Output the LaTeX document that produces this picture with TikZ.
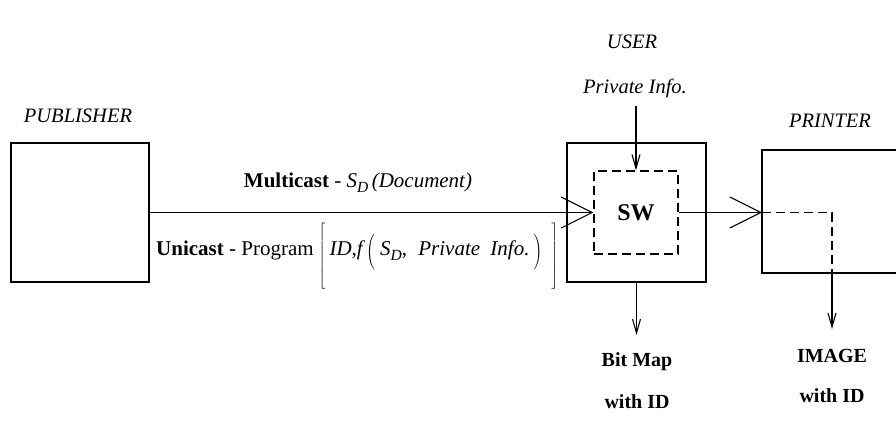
\documentclass[tikz,border=0pt]{standalone}
\usepackage{fontspec}
\setmainfont{Liberation Serif}
\usetikzlibrary{arrows.meta}
\newcommand\SubD{\textit{S}\raisebox{-5pt}{\fontsize{15.5}{15.5}\selectfont\itshape D}}
\newcommand\tallrule[1]{\vcenter{\hbox{\rule{0pt}{#1}}}}
\begin{document}
\begin{tikzpicture}[x=1pt,y=-1pt,
  every node/.style={inner sep=0pt, font=\fontsize{20}{24}\selectfont},
  lbl/.style={font=\fontsize{20.5}{24}\selectfont\itshape},
  bld/.style={font=\fontsize{20}{24}\selectfont\bfseries},
  msg/.style={font=\fontsize{21}{25}\selectfont},
  solidbox/.style={draw, line width=1.1pt},
  dashbox/.style={draw, line width=1.1pt, dash pattern=on 9pt off 5pt},
  bigarrow/.style={line width=1.1pt, -{Straight Barb[length=31pt,width=31pt,line width=1.1pt]}},
  smallarrow/.style={line width=1.1pt, -{Straight Barb[length=14pt,width=8pt,line width=1.1pt]}}
]
\useasboundingbox (0,0) rectangle (896,426);

% publisher
\node[solidbox, minimum width=138pt, minimum height=139pt] (pub) at (80,212.5) {};
\node[lbl] (publbl) at (78,116) {PUBLISHER};

% SW box
\node[solidbox, minimum width=139pt, minimum height=139pt] (sw) at (636.5,212.5) {};
\node[dashbox, minimum width=84pt, minimum height=83pt, font=\fontsize{24}{28}\selectfont\bfseries] (swin) at (636,212.5) {SW};

% user
\node[lbl] (user) at (632,42) {USER};
\node[lbl] (priv) at (635,88) {Private Info.};
\coordinate (privstart) at (636,106);
\draw[smallarrow] (privstart) -- (swin.north);

% printer
\node[lbl] (prnlbl) at (830,121) {PRINTER};
\draw[solidbox] (898,150) -- (762,150) -- (762,273) -- (898,273);
\coordinate (prnin) at (762,212.5);
\coordinate (prncorner) at (832,212.5);
\coordinate (prnbot) at (832,273);
\coordinate (imgtip) at (832,329);

% connectors
\draw[bigarrow] (pub.east) -- (swin.west);
\draw[bigarrow] (swin.east) -- (prnin);
\draw[dashbox] (prnin) -- (prncorner) -- (prnbot);
\draw[smallarrow] (prnbot) -- (imgtip);
\coordinate (bmtip) at (636.5,335);
\draw[smallarrow] (sw.south) -- (bmtip);

% messages
\node[msg] (multi) at (358,183) {\textbf{Multicast} - \SubD\,\textit{(Document)}};
\node[msg, anchor=west] (uni) at (156,256) {\raisebox{6pt}{\textbf{Unicast} - Program}\hspace{5pt}$\left[\tallrule{66pt}\right.$\hspace{3pt}\raisebox{6pt}{\textit{ID},\textit{f}}\hspace{1pt}\raisebox{4pt}{$\left(\tallrule{38pt}\right.$}\hspace{4pt}\raisebox{6pt}{\SubD, \hspace{6pt}\textit{Private}\hspace{5pt} \textit{Info.}}\hspace{3pt}\raisebox{4pt}{$\left.\tallrule{38pt}\right)$}\hspace{8pt}$\left.\tallrule{66pt}\right]$};

% outputs
\node[bld] (bm1) at (637,362) {Bit Map};
\node[bld] (bm2) at (637,402) {with ID};
\node[bld] (im1) at (832,356) {IMAGE};
\node[bld] (im2) at (832,396) {with ID};
\end{tikzpicture}
\end{document}
